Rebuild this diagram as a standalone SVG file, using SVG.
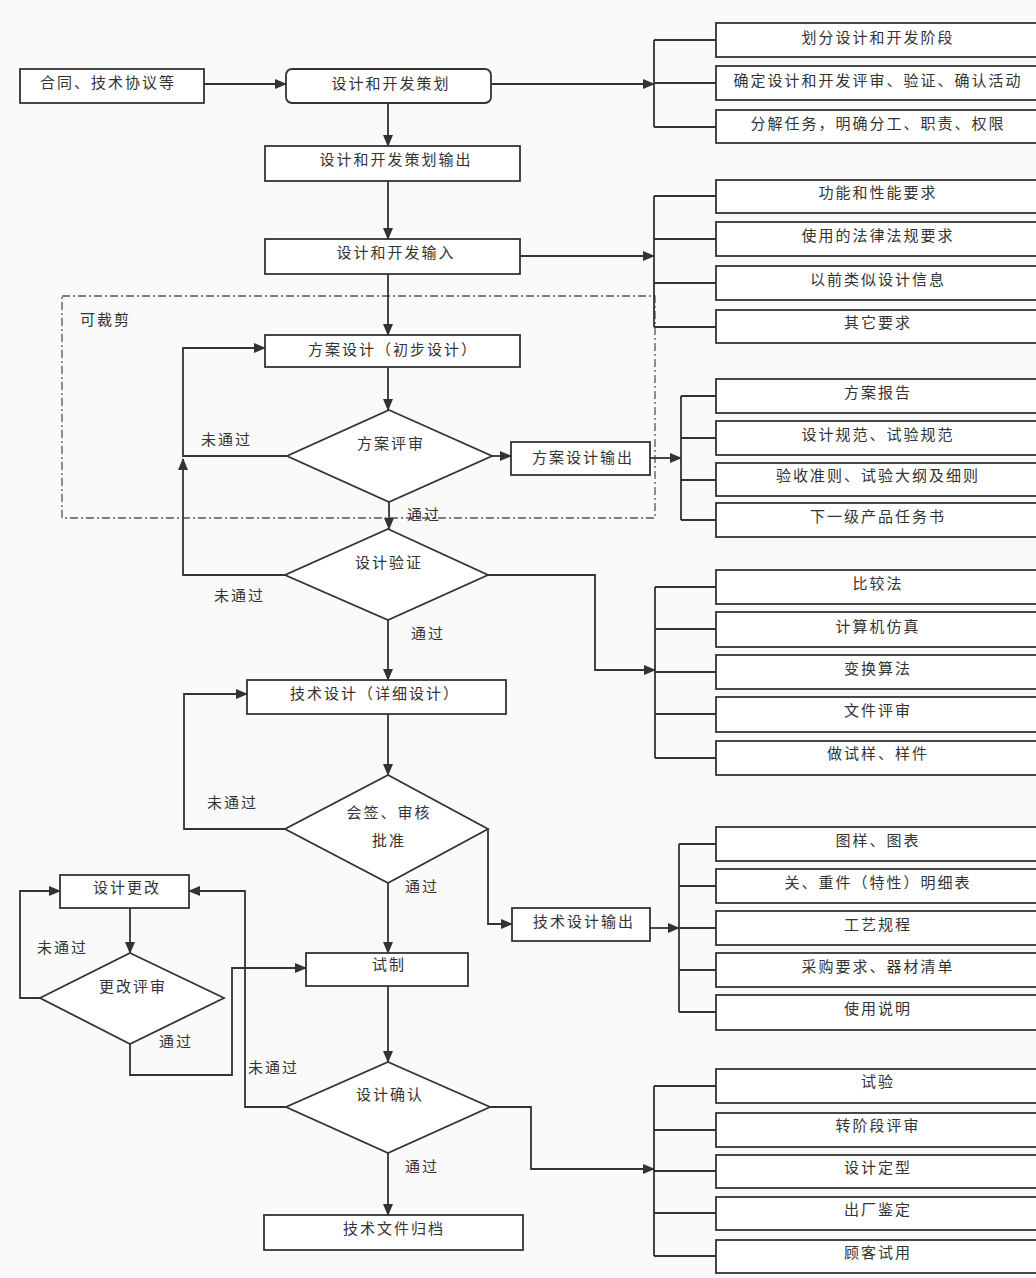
<svg xmlns="http://www.w3.org/2000/svg" width="1036" height="1278" viewBox="0 0 1036 1278">
<defs>
<marker id="ah" markerUnits="userSpaceOnUse" markerWidth="12" markerHeight="10" refX="11" refY="5" orient="auto">
<path d="M0,0 L12,5 L0,10 z" fill="#333"/>
</marker>
<style>
.bx{fill:#fff;stroke:#333;stroke-width:1.8}
.ln{fill:none;stroke:#333;stroke-width:1.8}
.ar{fill:none;stroke:#333;stroke-width:1.8;marker-end:url(#ah)}
.t{font-family:"Noto Sans CJK SC","Noto Sans CJK TC",sans-serif;font-size:15px;letter-spacing:2px;fill:#333;text-anchor:middle}
.l{font-family:"Noto Sans CJK SC","Noto Sans CJK TC",sans-serif;font-size:15px;letter-spacing:2px;fill:#333}
.crop{fill:none;stroke:#555;stroke-width:1.3;stroke-dasharray:8 3 2 3}
</style>
</defs>
<rect x="0" y="0" width="1036" height="1278" fill="#fafafa"/>

<g id="crop-region">
<rect class="crop" x="62" y="296" width="593" height="222"/>
<text class="l" x="80" y="325">可裁剪</text>
</g>

<g id="connectors">
<path class="ar" d="M204,84 H286"/>
<path class="ar" d="M491,84 H654"/>
<path class="ln" d="M654,40 V127 M654,40 H716 M654,83 H716 M654,127 H716"/>
<path class="ar" d="M388,103 V146"/>
<path class="ar" d="M388,181 V239"/>
<path class="ar" d="M520,256 H654"/>
<path class="ln" d="M654,196 V327 M654,196 H716 M654,239 H716 M654,283 H716 M654,327 H716"/>
<path class="ar" d="M388,274 V335"/>
<path class="ar" d="M388,367 V410"/>
<path class="ar" d="M287,456 H183 V348 H265"/>
<path class="ar" d="M492,456 H511"/>
<path class="ar" d="M650,458 H681"/>
<path class="ln" d="M681,396 V520 M681,396 H716 M681,438 H716 M681,480 H716 M681,520 H716"/>
<path class="ar" d="M389,502 V529"/>
<path class="ar" d="M285,575 H183 V459"/>
<path class="ar" d="M488,575 H595 V670 H655"/>
<path class="ln" d="M655,587 V758 M655,587 H716 M655,629 H716 M655,672 H716 M655,714 H716 M655,758 H716"/>
<path class="ar" d="M388,620 V680"/>
<path class="ar" d="M388,714 V775"/>
<path class="ar" d="M285,829 H184 V694 H247"/>
<path class="ar" d="M488,829 V924 H512"/>
<path class="ar" d="M650,928 H679"/>
<path class="ln" d="M679,844 V1012 M679,844 H716 M679,886 H716 M679,928 H716 M679,970 H716 M679,1012 H716"/>
<path class="ar" d="M388,883 V953"/>
<path class="ar" d="M130,908 V953"/>
<path class="ar" d="M40,998 H20 V891 H60"/>
<path class="ar" d="M130,1044 V1075 H232 V968 H306"/>
<path class="ar" d="M286,1107 H245 V891 H189"/>
<path class="ar" d="M388,986 V1062"/>
<path class="ar" d="M490,1107 H531 V1169 H654"/>
<path class="ln" d="M654,1086 V1256 M654,1086 H716 M654,1130 H716 M654,1171 H716 M654,1213 H716 M654,1256 H716"/>
<path class="ar" d="M388,1153 V1215"/>
</g>

<g id="labels">
<text class="l" x="201" y="445">未通过</text>
<text class="l" x="407" y="520">通过</text>
<text class="l" x="214" y="601">未通过</text>
<text class="l" x="411" y="639">通过</text>
<text class="l" x="207" y="808">未通过</text>
<text class="l" x="405" y="892">通过</text>
<text class="l" x="37" y="953">未通过</text>
<text class="l" x="159" y="1047">通过</text>
<text class="l" x="248" y="1073">未通过</text>
<text class="l" x="405" y="1172">通过</text>
</g>

<g id="n-contract"><rect class="bx" x="20" y="69" width="184" height="34"/><text class="t" x="108" y="88">合同、技术协议等</text></g>
<g id="n-plan"><rect class="bx" x="286" y="69" width="205" height="34" rx="6"/><text class="t" x="391" y="89">设计和开发策划</text></g>
<g id="n-plan-out"><rect class="bx" x="265" y="146" width="255" height="35"/><text class="t" x="396" y="165">设计和开发策划输出</text></g>
<g id="n-input"><rect class="bx" x="265" y="239" width="255" height="35"/><text class="t" x="396" y="258">设计和开发输入</text></g>

<g id="n-p1"><rect class="bx" x="716" y="23" width="330" height="34"/><text class="t" x="878" y="43">划分设计和开发阶段</text></g>
<g id="n-p2"><rect class="bx" x="716" y="66" width="330" height="34"/><text class="t" x="878" y="86">确定设计和开发评审、验证、确认活动</text></g>
<g id="n-p3"><rect class="bx" x="716" y="110" width="330" height="33"/><text class="t" x="878" y="129">分解任务，明确分工、职责、权限</text></g>

<g id="n-i1"><rect class="bx" x="716" y="180" width="330" height="33"/><text class="t" x="878" y="198">功能和性能要求</text></g>
<g id="n-i2"><rect class="bx" x="716" y="222" width="330" height="34"/><text class="t" x="878" y="241">使用的法律法规要求</text></g>
<g id="n-i3"><rect class="bx" x="716" y="266" width="330" height="34"/><text class="t" x="878" y="285">以前类似设计信息</text></g>
<g id="n-i4"><rect class="bx" x="716" y="310" width="330" height="33"/><text class="t" x="878" y="328">其它要求</text></g>

<g id="n-scheme"><rect class="bx" x="265" y="335" width="255" height="32"/><text class="t" x="393" y="355">方案设计（初步设计）</text></g>
<g id="d-scheme-review"><path class="bx" d="M389,410 L492,456 L389,502 L287,456 z"/><text class="t" x="391" y="449">方案评审</text></g>
<g id="n-scheme-out"><rect class="bx" x="511" y="442" width="139" height="33"/><text class="t" x="583" y="463">方案设计输出</text></g>

<g id="n-s1"><rect class="bx" x="716" y="379" width="330" height="34"/><text class="t" x="878" y="398">方案报告</text></g>
<g id="n-s2"><rect class="bx" x="716" y="421" width="330" height="34"/><text class="t" x="878" y="440">设计规范、试验规范</text></g>
<g id="n-s3"><rect class="bx" x="716" y="463" width="330" height="33"/><text class="t" x="878" y="481">验收准则、试验大纲及细则</text></g>
<g id="n-s4"><rect class="bx" x="716" y="503" width="330" height="34"/><text class="t" x="878" y="522">下一级产品任务书</text></g>

<g id="d-verify"><path class="bx" d="M388,529 L488,575 L388,620 L285,575 z"/><text class="t" x="389" y="568">设计验证</text></g>

<g id="n-v1"><rect class="bx" x="716" y="570" width="330" height="34"/><text class="t" x="878" y="589">比较法</text></g>
<g id="n-v2"><rect class="bx" x="716" y="612" width="330" height="35"/><text class="t" x="878" y="632">计算机仿真</text></g>
<g id="n-v3"><rect class="bx" x="716" y="655" width="330" height="34"/><text class="t" x="878" y="674">变换算法</text></g>
<g id="n-v4"><rect class="bx" x="716" y="697" width="330" height="35"/><text class="t" x="878" y="716">文件评审</text></g>
<g id="n-v5"><rect class="bx" x="716" y="741" width="330" height="34"/><text class="t" x="878" y="759">做试样、样件</text></g>

<g id="n-tech"><rect class="bx" x="247" y="680" width="259" height="34"/><text class="t" x="375" y="699">技术设计（详细设计）</text></g>
<g id="d-sign"><path class="bx" d="M388,775 L488,829 L388,883 L285,829 z"/><text class="t" x="389" y="818">会签、审核</text><text class="t" x="389" y="846">批准</text></g>
<g id="n-tech-out"><rect class="bx" x="512" y="908" width="138" height="33"/><text class="t" x="584" y="927">技术设计输出</text></g>

<g id="n-t1"><rect class="bx" x="716" y="827" width="330" height="34"/><text class="t" x="878" y="846">图样、图表</text></g>
<g id="n-t2"><rect class="bx" x="716" y="869" width="330" height="34"/><text class="t" x="878" y="888">关、重件（特性）明细表</text></g>
<g id="n-t3"><rect class="bx" x="716" y="911" width="330" height="34"/><text class="t" x="878" y="930">工艺规程</text></g>
<g id="n-t4"><rect class="bx" x="716" y="953" width="330" height="34"/><text class="t" x="878" y="972">采购要求、器材清单</text></g>
<g id="n-t5"><rect class="bx" x="716" y="995" width="330" height="35"/><text class="t" x="878" y="1014">使用说明</text></g>

<g id="n-change"><rect class="bx" x="60" y="875" width="129" height="33"/><text class="t" x="127" y="893">设计更改</text></g>
<g id="d-change-review"><path class="bx" d="M130,953 L224,998 L130,1044 L40,998 z"/><text class="t" x="133" y="992">更改评审</text></g>
<g id="n-trial"><rect class="bx" x="306" y="953" width="162" height="33"/><text class="t" x="389" y="970">试制</text></g>
<g id="d-confirm"><path class="bx" d="M388,1062 L490,1107 L388,1153 L286,1107 z"/><text class="t" x="390" y="1100">设计确认</text></g>
<g id="n-archive"><rect class="bx" x="264" y="1215" width="259" height="35"/><text class="t" x="394" y="1234">技术文件归档</text></g>

<g id="n-c1"><rect class="bx" x="716" y="1069" width="330" height="34"/><text class="t" x="878" y="1087">试验</text></g>
<g id="n-c2"><rect class="bx" x="716" y="1113" width="330" height="34"/><text class="t" x="878" y="1131">转阶段评审</text></g>
<g id="n-c3"><rect class="bx" x="716" y="1155" width="330" height="33"/><text class="t" x="878" y="1173">设计定型</text></g>
<g id="n-c4"><rect class="bx" x="716" y="1197" width="330" height="33"/><text class="t" x="878" y="1215">出厂鉴定</text></g>
<g id="n-c5"><rect class="bx" x="716" y="1240" width="330" height="33"/><text class="t" x="878" y="1258">顾客试用</text></g>
</svg>
